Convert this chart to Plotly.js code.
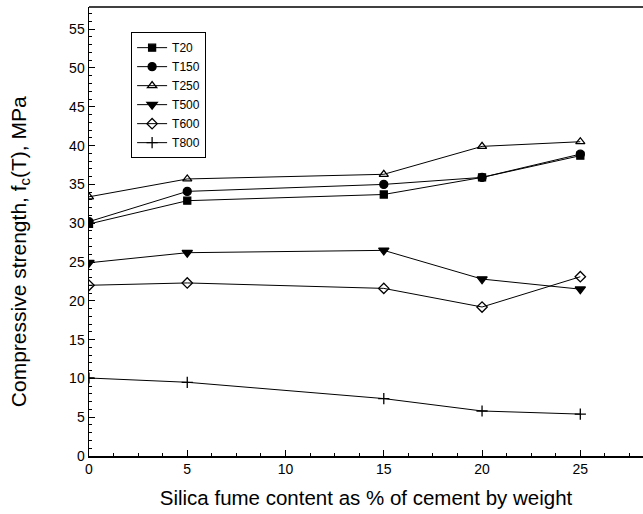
<!DOCTYPE html>
<html>
<head>
<meta charset="utf-8">
<script src="https://cdn.plot.ly/plotly-3.0.1.min.js"></script>
<style>html,body{margin:0;padding:0;background:#fff;}#chart{width:643px;height:514px;}</style>
</head>
<body>
<div id="chart"></div>
<script>
const silicaFume = [0, 5, 15, 20, 25];
const T20  = [29.9, 32.9, 33.7, 35.9, 38.7];
const T150 = [30.2, 34.1, 35.0, 35.9, 38.9];
const T250 = [33.4, 35.7, 36.3, 39.9, 40.5];
const T500 = [24.9, 26.2, 26.5, 22.8, 21.5];
const T600 = [22.0, 22.3, 21.6, 19.2, 23.1];
const T800 = [10.05, 9.5, 7.4, 5.8, 5.4];
const seriesNames = ['T20', 'T150', 'T250', 'T500', 'T600', 'T800'];
const seriesData = [T20, T150, T250, T500, T600, T800];
const symbols = ['square', 'circle', 'triangle-up-open', 'triangle-down', 'diamond-open', 'cross-thin-open'];
const sizes = [7, 8, 8, 9, 8, 8];
const yTitle = 'Compressive strength, f<sub>c</sub>(T), MPa';
const xTitle = 'Silica fume content as % of cement by weight';

const traces = seriesNames.map((n, i) => ({
  x: silicaFume, y: seriesData[i], name: n, type: 'scatter', mode: 'lines+markers',
  line: {color: '#000', width: 1},
  marker: {symbol: symbols[i], size: sizes[i], color: '#000', line: {color: '#000', width: 1.3}}
}));

const font = {family: 'Arial, "Liberation Sans", sans-serif', color: '#000'};
const layout = {
  width: 643, height: 514,
  margin: {l: 89, r: 0, t: 7, b: 58},
  paper_bgcolor: '#fff', plot_bgcolor: '#fff',
  font: Object.assign({size: 14}, font),
  showlegend: true,
  legend: {x: 0.076, y: 0.944, xanchor: 'left', yanchor: 'top', bordercolor: '#000', borderwidth: 1,
           bgcolor: '#fff', font: Object.assign({size: 12}, font), tracegroupgap: 0, itemwidth: 30},
  xaxis: {range: [0, 28.19], tickvals: [0, 5, 10, 15, 20, 25], ticks: 'inside', ticklen: 6, tickcolor: '#000',
          showline: true, linecolor: '#000', linewidth: 1.5, showgrid: false, zeroline: false,
          minor: {dtick: 1.25, tick0: 0, ticks: 'inside', ticklen: 3, tickcolor: '#000', showgrid: false},
          tickfont: Object.assign({size: 14}, font),
          title: {text: xTitle, font: Object.assign({size: 20.5}, font), standoff: 14}},
  yaxis: {range: [0, 57.86], tickvals: [0, 5, 10, 15, 20, 25, 30, 35, 40, 45, 50, 55], ticks: 'inside', ticklen: 6, tickcolor: '#000',
          showline: true, linecolor: '#000', linewidth: 1.5, showgrid: false, zeroline: false,
          minor: {dtick: 1, tick0: 0, ticks: 'inside', ticklen: 3, tickcolor: '#000', showgrid: false},
          tickfont: Object.assign({size: 14}, font)},
  annotations: [{text: yTitle, xref: 'paper', yref: 'paper', x: -0.1245, y: 0.454, textangle: -90,
                 showarrow: false, xanchor: 'center', yanchor: 'middle', font: Object.assign({size: 21}, font)}],
  shapes: [{type: 'line', xref: 'paper', yref: 'paper', x0: 0, x1: 1, y0: 1, y1: 1, line: {color: '#000', width: 1.5}}]
};
Plotly.newPlot('chart', traces, layout, {displayModeBar: false, staticPlot: true});
</script>
</body>
</html>
